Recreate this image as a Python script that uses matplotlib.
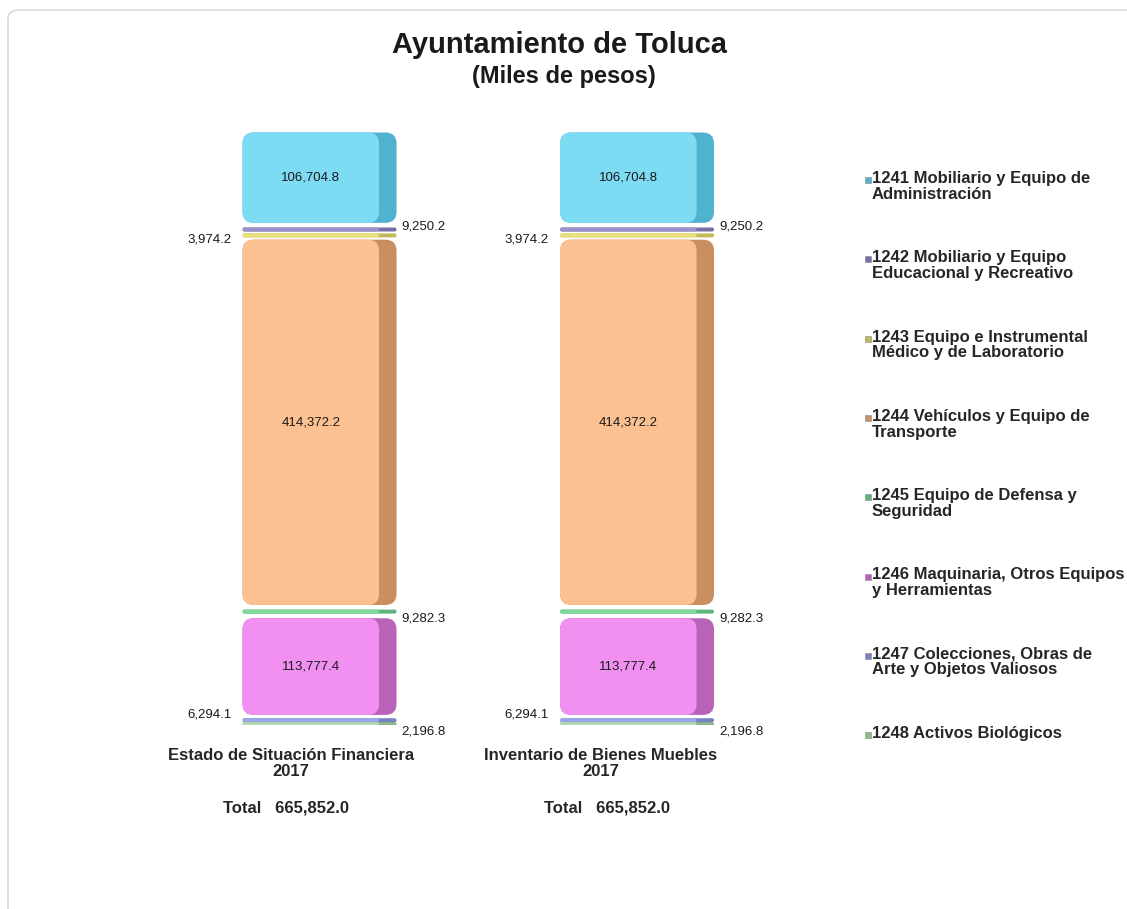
import numpy as np
import matplotlib.pyplot as plt
from matplotlib.patches import FancyBboxPatch, Rectangle

plt.rcParams['font.family'] = ['Liberation Sans', 'DejaVu Sans']

# data (miles de pesos), stacking order from bottom to top
codes = ['1248', '1247', '1246', '1245', '1244', '1243', '1242', '1241']
names = ['1248 Activos Biológicos',
         '1247 Colecciones, Obras de\nArte y Objetos Valiosos',
         '1246 Maquinaria, Otros Equipos\ny Herramientas',
         '1245 Equipo de Defensa y\nSeguridad',
         '1244 Vehículos y Equipo de\nTransporte',
         '1243 Equipo e Instrumental\nMédico y de Laboratorio',
         '1242 Mobiliario y Equipo\nEducacional y Recreativo',
         '1241 Mobiliario y Equipo de\nAdministración']
estado = [2196.8, 6294.1, 113777.4, 9282.3, 414372.2, 3974.2, 9250.2, 106704.8]
inventario = [2196.8, 6294.1, 113777.4, 9282.3, 414372.2, 3974.2, 9250.2, 106704.8]
categories = ['Estado de Situación Financiera\n2017', 'Inventario de Bienes Muebles\n2017']
series = [estado, inventario]

front = ['#b4dcae', '#9aa6e6', '#f190f0', '#80d89c', '#fcc190', '#e8e07a', '#9d90cc', '#7ddcf4']
side = ['#8fb88a', '#7782c0', '#b862b8', '#5fb47a', '#c98f60', '#c2ba55', '#7a6ea8', '#4fb2cf']

fig = plt.figure(figsize=(11.27, 9.09), dpi=100)
W, H = 1127, 909

# light outer frame
fig.patches.append(FancyBboxPatch((8 / W, -0.05), 1.2, 1 - 10 / H + 0.05,
                                  boxstyle='round,pad=0,rounding_size=0.01',
                                  transform=fig.transFigure, fill=False,
                                  edgecolor='#d9d9d9', linewidth=1.2))

ax = fig.add_axes([160 / W, 1 - 725 / H, 635 / W, 595 / H])
total = sum(estado)
ax.set_xlim(-0.5, 1.5)
ax.set_ylim(0, total)
ax.axis('off')

# px -> data conversions
px_x = 2.0 / 635
px_y = total / 595
aspect = px_y / px_x

w_front = 0.43
w_full = 0.485
gap = 5 * px_y
min_h = 4 * px_y

x = np.arange(len(categories))
for k, vals in enumerate(series):
    bottom = 0
    for i, v in enumerate(vals):
        sb = ax.bar(x[k] - 0.24, v, width=w_full, bottom=bottom, align='edge')
        fb = ax.bar(x[k] - 0.24, v, width=w_front, bottom=bottom, align='edge')
        for rect, col, z in [(sb[0], side[i], 1), (fb[0], front[i], 2)]:
            rx, ry, rw, rh = rect.get_x(), rect.get_y(), rect.get_width(), rect.get_height()
            rect.remove()
            h = max(rh - gap, min_h)
            y0 = ry + rh / 2 - h / 2
            r = min(0.035, 0.5 * h / aspect, 0.5 * rw)
            ax.add_patch(FancyBboxPatch((rx, y0), rw, h,
                                        boxstyle=f'round,pad=0,rounding_size={r}',
                                        mutation_aspect=aspect,
                                        facecolor=col, edgecolor='none', zorder=z))
        bottom += v

    cum = np.cumsum([0] + vals)
    centers = (cum[:-1] + cum[1:]) / 2
    cx = x[k] - 0.24 + w_front / 2
    left = x[k] - 0.24
    right = x[k] - 0.24 + w_full
    # big segments: label inside
    for i in [2, 4, 7]:
        ax.text(cx, centers[i], f'{vals[i]:,.1f}', ha='center', va='center',
                fontsize=9.5, color='#1a1a1a', zorder=5)
    # small segments: labels outside
    outside = {6: ('right', 3), 5: ('left', -4), 3: ('right', -7),
               1: ('left', 6), 0: ('right', -7)}
    for i, (side_, dy) in outside.items():
        if side_ == 'right':
            ax.annotate(f'{vals[i]:,.1f}', (right, centers[i]), xytext=(5, dy),
                        textcoords='offset pixels', ha='left', va='center',
                        fontsize=9.5, color='#1a1a1a', annotation_clip=False)
        else:
            ax.annotate(f'{vals[i]:,.1f}', (left, centers[i]), xytext=(-11, dy),
                        textcoords='offset pixels', ha='right', va='center',
                        fontsize=9.5, color='#1a1a1a', annotation_clip=False)

# category labels and totals
label_x = [291, 601]
total_x = [286, 607]
totals = [sum(estado), sum(inventario)]
for k in range(len(categories)):
    fig.text(label_x[k] / W, 1 - 748 / H, categories[k], ha='center', va='top',
             fontsize=12, fontweight='bold', color='#262626', linespacing=1.05)
    fig.text(total_x[k] / W, 1 - 808 / H, f'Total   {totals[k]:,.1f}', ha='center',
             va='center', fontsize=12, fontweight='bold', color='#262626')

# titles
fig.text(560 / W, 1 - 45 / H, 'Ayuntamiento de Toluca', ha='center', va='center',
         fontsize=21, fontweight='bold', color='#1a1a1a')
fig.text(564 / W, 1 - 76 / H, '(Miles de pesos)', ha='center', va='center',
         fontsize=17, fontweight='bold', color='#1a1a1a')

# legend (top entry first)
for j, i in enumerate(range(len(codes) - 1, -1, -1)):
    yc = 180 + j * 79.3
    fig.patches.append(Rectangle((865 / W, 1 - (yc + 3) / H), 6 / W, 6 / H,
                                 transform=fig.transFigure, facecolor=side[i],
                                 edgecolor='#888888', linewidth=0.4))
    fig.text(872 / W, 1 - (yc - 9) / H, names[i], ha='left', va='top',
             fontsize=12, fontweight='bold', color='#262626', linespacing=1.05)

fig.savefig('out.png', dpi=100, facecolor='white')
